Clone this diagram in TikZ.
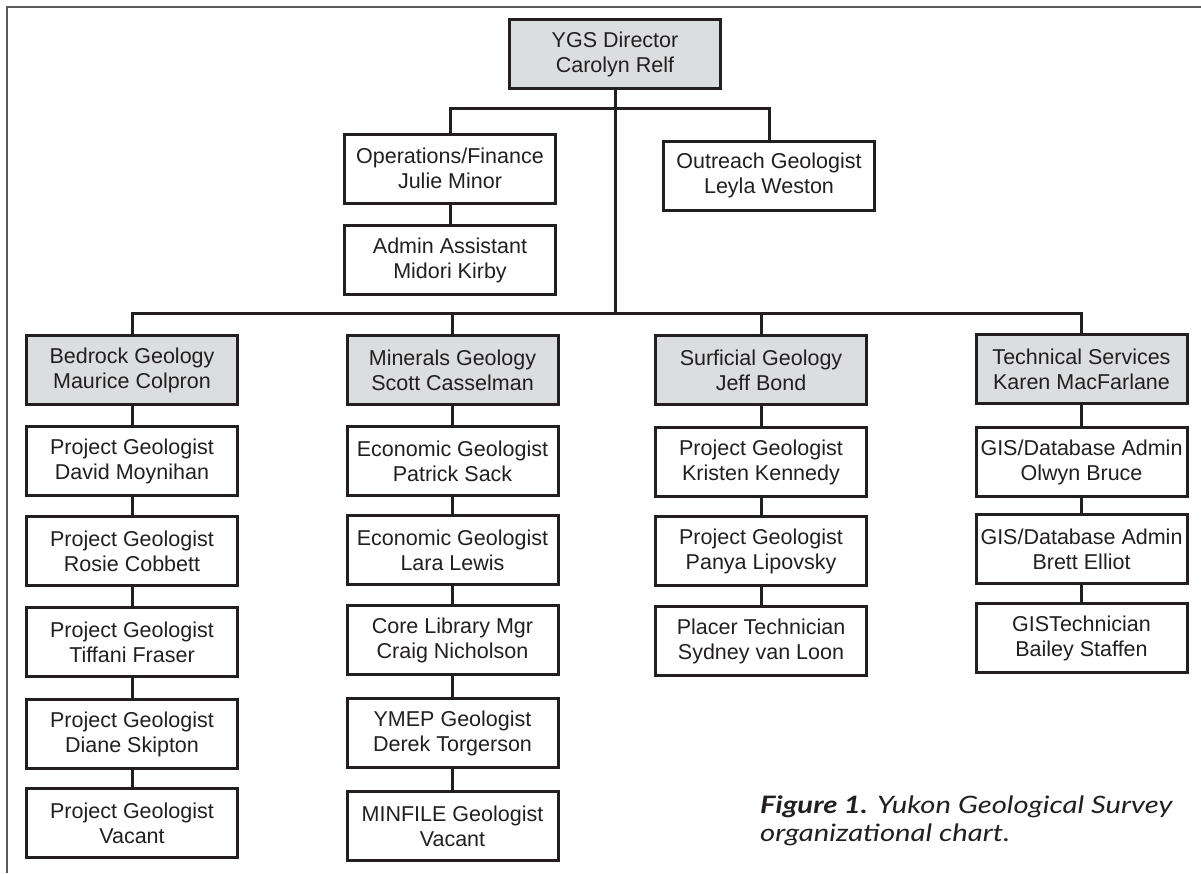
\documentclass[tikz,border=0pt]{standalone}
\usepackage{fontspec}
\setmainfont{Liberation Sans}
\newfontfamily\capfont{Lato}[FakeStretch=1.22]
\definecolor{ink}{HTML}{231F20}
\definecolor{headgray}{HTML}{DCDDDE}
\definecolor{framegray}{HTML}{58595B}
\begin{document}
\begin{tikzpicture}[x=1pt,y=-1pt,
  box/.style={draw=ink, line width=3pt, fill=white, minimum width=211pt, minimum height=69pt,
    inner sep=0pt, align=center, text=ink, font=\fontsize{21.5}{25}\selectfont},
  headbox/.style={box, fill=headgray},
  link/.style={draw=ink, line width=3pt, line cap=rect}]
\useasboundingbox (0,0) rectangle (1201,873);
\fill[white] (0,0) rectangle (1201,873);
% frame
\coordinate (fbl) at (7,873);
\coordinate (ftl) at (7,7);
\coordinate (ftr) at (1201,7);
\draw[framegray, line width=1.5pt] (fbl) -- (ftl) -- (ftr);

% top
\node[headbox] (dir) at (615,54) {YGS Director\\Carolyn Relf};
\node[box] (ops) at (450,168.5) {Operations/Finance\\Julie Minor};
\node[box] (out) at (769,175.5) {Outreach Geologist\\Leyla Weston};
\node[box] (adm) at (450,260) {Admin Assistant\\Midori Kirby};

% column 1
\node[headbox] (bed) at (132,370) {Bedrock Geology\\Maurice Colpron};
\node[box] (b1) at (132,461) {Project Geologist\\David Moynihan};
\node[box] (b2) at (132,551) {Project Geologist\\Rosie Cobbett};
\node[box] (b3) at (132,642) {Project Geologist\\Tiffani Fraser};
\node[box] (b4) at (132,734) {Project Geologist\\Diane Skipton};
\node[box] (b5) at (132,823) {Project Geologist\\Vacant};

% column 2
\node[headbox] (min) at (452.5,370) {Minerals Geology\\Scott Casselman};
\node[box] (m1) at (452.5,461) {Economic Geologist\\Patrick Sack};
\node[box] (m2) at (452.5,550) {Economic Geologist\\Lara Lewis};
\node[box] (m3) at (452.5,640) {Core Library Mgr\\Craig Nicholson};
\node[box] (m4) at (452.5,733) {YMEP Geologist\\Derek Torgerson};
\node[box] (m5) at (452.5,826) {MINFILE Geologist\\Vacant};

% column 3
\node[headbox] (sur) at (761,370) {Surficial Geology\\Jeff Bond};
\node[box] (s1) at (761,462) {Project Geologist\\Kristen Kennedy};
\node[box] (s2) at (761,551) {Project Geologist\\Panya Lipovsky};
\node[box] (s3) at (761,641) {Placer Technician\\Sydney van Loon};

% column 4
\node[headbox] (tec) at (1081.5,369) {Technical Services\\Karen MacFarlane};
\node[box] (t1) at (1081.5,462) {GIS/Database Admin\\Olwyn Bruce};
\node[box] (t2) at (1081.5,549) {GIS/Database Admin\\Brett Elliot};
\node[box] (t3) at (1081.5,638) {GISTechnician\\Bailey Staffen};

% bars
\coordinate (bar1) at (615,108);
\coordinate (bar2) at (615,313);

\draw[link] (dir.south) -- (bar2);
\draw[link] (ops.north) |- (bar1) -| (out.north);
\draw[link] (ops.south) -- (adm.north);
\draw[link] (bed.north) |- (bar2) -| (tec.north);
\draw[link] (min.north) -- (min.north |- bar2);
\draw[link] (sur.north) -- (sur.north |- bar2);

\draw[link] (bed.south) -- (b1.north);
\draw[link] (b1.south) -- (b2.north);
\draw[link] (b2.south) -- (b3.north);
\draw[link] (b3.south) -- (b4.north);
\draw[link] (b4.south) -- (b5.north);

\draw[link] (min.south) -- (m1.north);
\draw[link] (m1.south) -- (m2.north);
\draw[link] (m2.south) -- (m3.north);
\draw[link] (m3.south) -- (m4.north);
\draw[link] (m4.south) -- (m5.north);

\draw[link] (sur.south) -- (s1.north);
\draw[link] (s1.south) -- (s2.north);
\draw[link] (s2.south) -- (s3.north);

\draw[link] (tec.south) -- (t1.north);
\draw[link] (t1.south) -- (t2.north);
\draw[link] (t2.south) -- (t3.north);

% caption
\node[anchor=north west, inner sep=0pt, align=left, text=ink,
  font=\capfont\itshape\fontsize{24}{28}\selectfont] (cap) at (760,795.5)
  {{\bfseries Figure 1.} Yukon Geological Survey\\organizational chart.};
\end{tikzpicture}
\end{document}
